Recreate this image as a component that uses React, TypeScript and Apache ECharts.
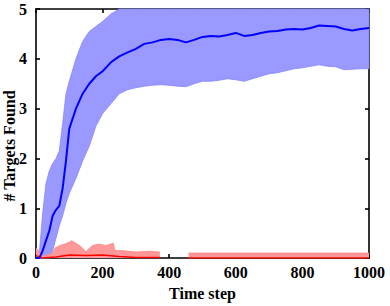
import React, { useEffect, useRef } from "react";
import * as echarts from "echarts";

const blueT = [0, 10, 20, 30, 40, 50, 60, 70, 80, 90, 100, 120, 140, 160, 180, 200, 225, 250, 275, 300, 325, 350, 375, 400, 425, 450, 475, 500, 525, 550, 575, 600, 625, 650, 675, 700, 725, 750, 775, 800, 825, 850, 875, 900, 925, 950, 975, 1000];
const blueMean = [0, 0, 0.15, 0.35, 0.55, 0.85, 0.97, 1.05, 1.4, 1.95, 2.6, 3.0, 3.3, 3.5, 3.65, 3.75, 3.93, 4.05, 4.13, 4.2, 4.3, 4.33, 4.38, 4.4, 4.38, 4.33, 4.38, 4.44, 4.46, 4.45, 4.48, 4.52, 4.46, 4.48, 4.52, 4.55, 4.56, 4.59, 4.6, 4.59, 4.62, 4.67, 4.66, 4.65, 4.6, 4.57, 4.6, 4.62];
const blueUpper = [0, 0.1, 0.9, 1.5, 1.75, 1.9, 2.0, 2.15, 2.7, 3.3, 3.55, 4.0, 4.35, 4.55, 4.65, 4.75, 4.9, 5, 5, 5, 5, 5, 5, 5, 5, 5, 5, 5, 5, 5, 5, 5, 5, 5, 5, 5, 5, 5, 5, 5, 5, 5, 5, 5, 5, 5, 5, 5];
const blueLower = [0, 0, 0, 0, 0, 0.15, 0.4, 0.65, 0.85, 1.1, 1.3, 1.6, 1.95, 2.25, 2.65, 2.9, 3.1, 3.3, 3.38, 3.42, 3.45, 3.47, 3.48, 3.47, 3.45, 3.44, 3.5, 3.55, 3.55, 3.57, 3.6, 3.58, 3.55, 3.6, 3.65, 3.7, 3.72, 3.76, 3.8, 3.82, 3.85, 3.88, 3.85, 3.84, 3.78, 3.79, 3.8, 3.8];

const redT = [0, 8, 15, 30, 50, 57, 70, 85, 100, 107, 120, 137, 150, 160, 172, 190, 210, 232, 237, 260, 300, 340, 372, 373, 455, 458, 600, 800, 1000];
const redUpper = [0.2, 0.15, 0.05, 0.05, 0.1, 0.2, 0.25, 0.28, 0.32, 0.35, 0.3, 0.22, 0.12, 0.2, 0.26, 0.28, 0.25, 0.3, 0.15, 0.15, 0.12, 0.14, 0.12, null, null, 0.1, 0.1, 0.1, 0.1];
const redMeanT = [0, 20, 60, 100, 150, 200, 250, 300, 372, 373, 458, 1000];
const redMean = [0.05, 0.0, 0.02, 0.06, 0.05, 0.06, 0.03, 0.01, 0.01, null, 0.0, 0.0];

const xTicks = [0, 200, 400, 600, 800, 1000];
const yTicks = [0, 1, 2, 3, 4, 5];

const FONT = "Liberation Serif";

export default function App() {
  const ref = useRef<HTMLDivElement>(null);
  useEffect(() => {
    if (!ref.current) return;
    const chart = echarts.init(ref.current, null, { renderer: "svg" });
    const axisLine = { show: true, onZero: false, lineStyle: { color: "#000", width: 1.6 } };
    const axisTick = { show: true, inside: true, length: 4, lineStyle: { color: "#000", width: 1.6 } };
    const label = { fontFamily: FONT, fontWeight: "bold" as const, fontSize: 16, color: "#000" };
    const xBase = {
      type: "value" as const,
      min: xTicks[0],
      max: xTicks[xTicks.length - 1],
      interval: 200,
      splitLine: { show: false },
      axisLine,
      axisTick,
    };
    const yBase = {
      type: "value" as const,
      min: yTicks[0],
      max: yTicks[yTicks.length - 1],
      interval: 1,
      splitLine: { show: false },
      axisLine,
      axisTick,
    };
    chart.setOption({
      animation: false,
      grid: { left: 36, right: 21, top: 9, bottom: 43 },
      xAxis: [
        {
          ...xBase,
          position: "bottom",
          axisLabel: { ...label, margin: 6, formatter: (v: number) => String(v) },
          name: "Time step",
          nameLocation: "middle",
          nameGap: 22,
          nameTextStyle: { ...label },
        },
        { ...xBase, position: "top", axisLabel: { show: false } },
      ],
      yAxis: [
        { ...yBase, position: "left", axisLabel: { ...label, margin: 9 } },
        { ...yBase, position: "right", axisLabel: { show: false } },
      ],
      graphic: [
        {
          type: "text",
          x: 9,
          y: 146,
          rotation: Math.PI / 2,
          style: {
            text: "# Targets Found",
            fontFamily: FONT,
            fontWeight: "bold",
            fontSize: 16,
            fill: "#000",
            align: "center",
            verticalAlign: "middle",
          },
        },
      ],
      series: [
        {
          type: "custom",
          data: blueT.map((t, i) => [t, blueLower[i], blueUpper[i]]),
          encode: { x: 0, y: [1, 2] },
          z: 1,
          renderItem: (params: any, api: any) => {
            if (params.dataIndex !== 0) return null;
            const top = blueT.map((t, i) => api.coord([t, blueUpper[i]]));
            const bottom = blueT.map((t, i) => api.coord([t, blueLower[i]])).reverse();
            return {
              type: "polygon",
              shape: { points: top.concat(bottom) },
              style: { fill: "#9999ff", stroke: "#8585ff", lineWidth: 0.8 },
            };
          },
        },
        {
          type: "line",
          symbol: "none",
          connectNulls: false,
          lineStyle: { width: 0.8, color: "#ff8080" },
          areaStyle: { color: "#ff9999", opacity: 1, origin: "start" },
          data: redT.map((t, i) => [t, redUpper[i]]),
          z: 2,
        },
        {
          type: "line",
          symbol: "none",
          connectNulls: false,
          lineStyle: { width: 1.5, color: "#ff0000" },
          data: redMeanT.map((t, i) => [t, redMean[i]]),
          z: 3,
        },
        {
          type: "line",
          symbol: "none",
          lineStyle: { width: 2, color: "#0000ff" },
          data: blueT.map((t, i) => [t, blueMean[i]]),
          z: 4,
        },
      ],
    });
    return () => chart.dispose();
  }, []);
  return (
    <div
      ref={ref}
      style={{ position: "fixed", left: 0, top: 0, width: 390, height: 306, background: "#fff" }}
    />
  );
}
